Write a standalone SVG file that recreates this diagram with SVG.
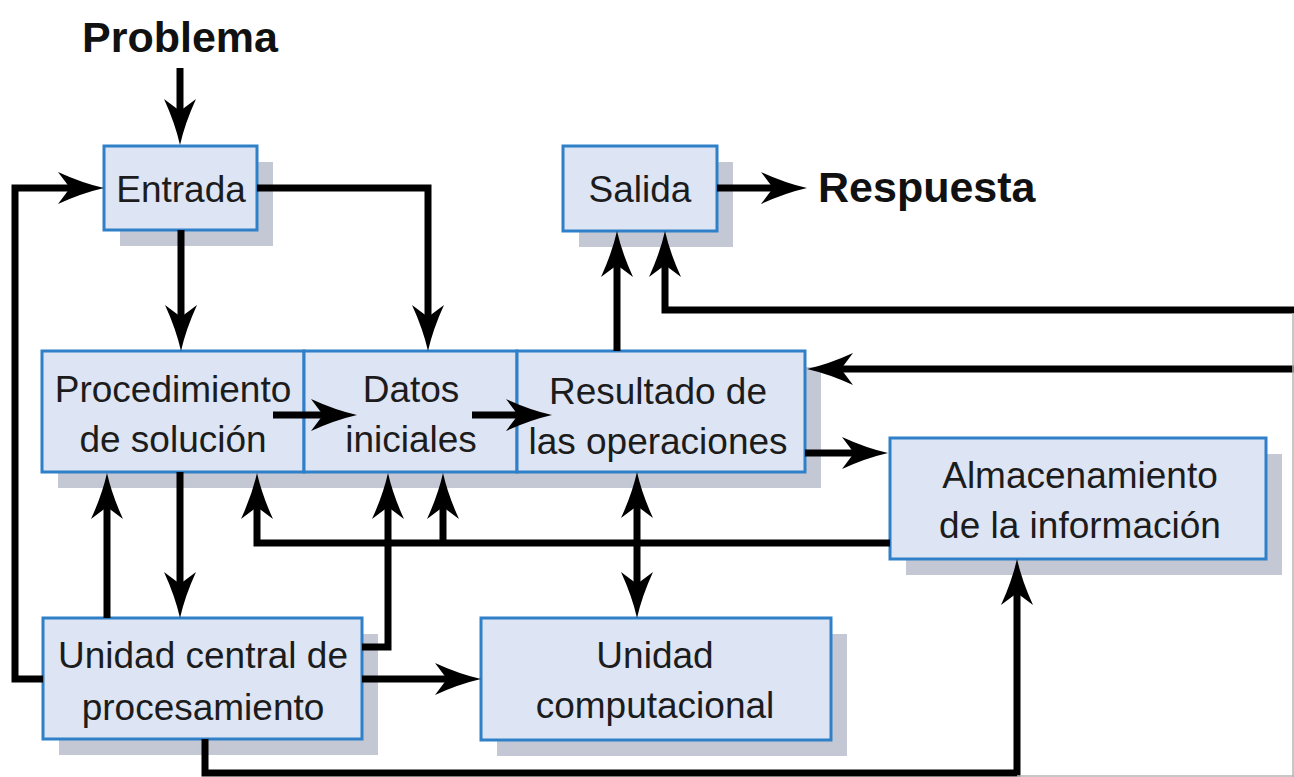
<svg xmlns="http://www.w3.org/2000/svg" width="1294" height="777" viewBox="0 0 1294 777">
<style>
.shadow{fill:#c4c8d4}
.box{fill:#dde4f3;stroke:#2f80c8;stroke-width:3}
.t{font-family:"Liberation Sans",Arial,sans-serif;font-size:37px;fill:#1c1c1c;text-anchor:middle}
.title{font-family:"Liberation Sans",Arial,sans-serif;font-size:43px;font-weight:bold;fill:#111}
.c{fill:none;stroke:#000;stroke-width:7;stroke-linejoin:miter}
.frame{fill:none;stroke:#b5b5b5;stroke-width:1.5}
</style>
<defs>
<marker id="ah" markerUnits="userSpaceOnUse" viewBox="0 -18 48 36" refX="12" refY="0" markerWidth="48" markerHeight="36" orient="auto-start-reverse">
<path d="M0,-16 Q24,-5 46,0 Q24,5 0,16 L12,0 Z" fill="#000"/>
</marker>
</defs>
<rect width="1294" height="777" fill="#fff"/>
<g id="problema"><text class="title" x="82" y="52">Problema</text></g>
<g id="respuesta"><text class="title" x="818" y="202">Respuesta</text></g>
<g id="entrada">
<rect class="shadow" x="120" y="162" width="153" height="84"/>
<rect class="box" x="104" y="146" width="153" height="84"/>
<text class="t" x="181" y="202">Entrada</text>
</g>
<g id="salida">
<rect class="shadow" x="579" y="162" width="154" height="85"/>
<rect class="box" x="563" y="146" width="154" height="85"/>
<text class="t" x="640" y="202">Salida</text>
</g>
<g id="procedimiento">
<rect class="shadow" x="58" y="367" width="262" height="121"/>
<rect class="box" x="42" y="351" width="262" height="121"/>
<text class="t" x="173" y="402">Procedimiento</text>
<text class="t" x="173" y="452">de solución</text>
</g>
<g id="datos">
<rect class="shadow" x="320" y="367" width="213" height="121"/>
<rect class="box" x="304" y="351" width="213" height="121"/>
<text class="t" x="411" y="402">Datos</text>
<text class="t" x="411" y="452">iniciales</text>
</g>
<g id="resultado">
<rect class="shadow" x="533" y="367" width="288" height="121"/>
<rect class="box" x="517" y="351" width="288" height="121"/>
<text class="t" x="658" y="404">Resultado de</text>
<text class="t" x="658" y="454">las operaciones</text>
</g>
<g id="almacenamiento">
<rect class="shadow" x="906" y="454" width="376" height="121"/>
<rect class="box" x="890" y="438" width="376" height="121"/>
<text class="t" x="1080" y="488">Almacenamiento</text>
<text class="t" x="1080" y="538">de la información</text>
</g>
<g id="cpu">
<rect class="shadow" x="59" y="634" width="319" height="121"/>
<rect class="box" x="43" y="618" width="319" height="121"/>
<text class="t" x="203" y="668">Unidad central de</text>
<text class="t" x="203" y="720">procesamiento</text>
</g>
<g id="computacional">
<rect class="shadow" x="497" y="634" width="350" height="122"/>
<rect class="box" x="481" y="618" width="350" height="122"/>
<text class="t" x="655" y="668">Unidad</text>
<text class="t" x="655" y="718">computacional</text>
</g>
<g id="connectors">
<path class="c" d="M180,68 V111" marker-end="url(#ah)"/>
<path class="c" d="M43,679 H15 V188 H70" marker-end="url(#ah)"/>
<path class="c" d="M257,188 H428 V317" marker-end="url(#ah)"/>
<path class="c" d="M181,230 V317" marker-end="url(#ah)"/>
<path class="c" d="M717,188 H773" marker-end="url(#ah)"/>
<path class="c" d="M617,351 V265" marker-end="url(#ah)"/>
<path class="c" d="M1294,310 H665 V265" marker-end="url(#ah)"/>
<path class="c" d="M1294,369 H841" marker-end="url(#ah)"/>
<path class="c" d="M273,415 H323" marker-end="url(#ah)"/>
<path class="c" d="M472,415 H518" marker-end="url(#ah)"/>
<path class="c" d="M805,453 H854" marker-end="url(#ah)"/>
<path class="c" d="M890,543 H257 V507" marker-end="url(#ah)"/>
<path class="c" d="M443,543 V507" marker-end="url(#ah)"/>
<path class="c" d="M107,618 V507" marker-end="url(#ah)"/>
<path class="c" d="M180,472 V584" marker-end="url(#ah)"/>
<path class="c" d="M362,647 H388 V507" marker-end="url(#ah)"/>
<path class="c" d="M362,679 H447" marker-end="url(#ah)"/>
<path class="c" d="M637,506 V584" marker-start="url(#ah)" marker-end="url(#ah)"/>
<path class="c" d="M205,739 V773 H1017 V593" marker-end="url(#ah)"/>
</g>
<path class="frame" d="M1017,776 H1294 M1293,313 V777"/>
</svg>
